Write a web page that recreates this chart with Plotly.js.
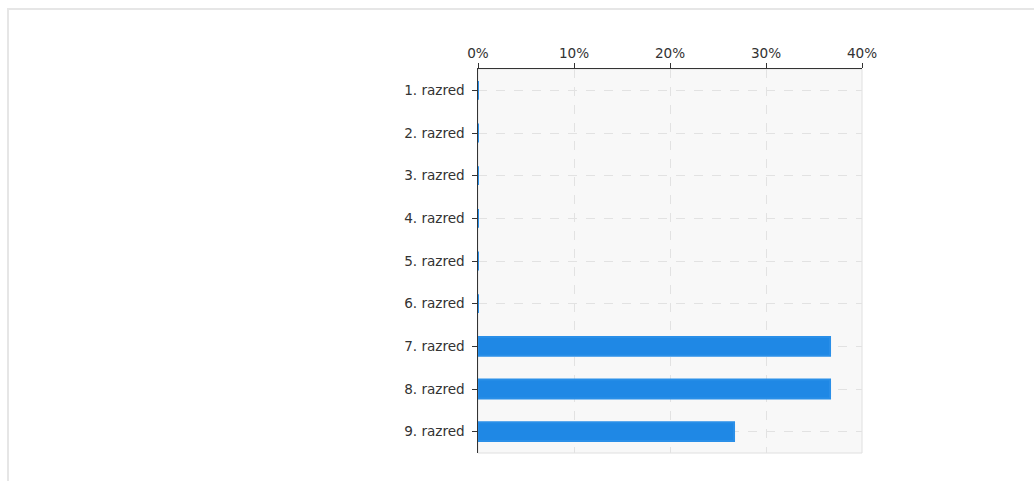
<!DOCTYPE html>
<html>
<head>
<meta charset="utf-8">
<script src="https://cdn.plot.ly/plotly-3.0.1.min.js"></script>
<style>
  html, body { margin: 0; padding: 0; background: #fff; }
  #frame { position: absolute; left: 7px; top: 8px; width: 1027px; height: 473px;
           border-top: 2px solid #e6e6e6; border-left: 2px solid #e6e6e6; box-sizing: border-box; }
  #chart { position: absolute; left: 0; top: 0; width: 1034px; height: 481px; }
</style>
</head>
<body>
<div id="frame"></div>
<div id="chart"></div>
<script>
const categories = ["1. razred", "2. razred", "3. razred", "4. razred", "5. razred",
                    "6. razred", "7. razred", "8. razred", "9. razred"];
const percentValues = [0, 0, 0, 0, 0, 0, 36.67, 36.67, 26.67];
const xTickValues = [0, 10, 20, 30, 40];
const xTickLabels = ["0%", "10%", "20%", "30%", "40%"];

const trace = {
  type: "bar",
  orientation: "h",
  y: categories,
  x: percentValues,
  marker: { color: "#1f88e5", line: { color: "#2a8fe8", width: 2 } },
  hoverinfo: "none"
};

const layout = {
  width: 1034,
  height: 481,
  margin: { l: 478, r: 172, t: 69, b: 28, pad: 0 },
  paper_bgcolor: "rgba(0,0,0,0)",
  plot_bgcolor: "#f8f8f8",
  showlegend: false,
  bargap: 0.56,
  font: { family: "DejaVu Sans, Verdana, sans-serif", size: 13.6, color: "#333" },
  xaxis: {
    side: "top",
    range: [0, 40],
    tickvals: xTickValues,
    ticktext: xTickLabels,
    ticks: "outside",
    ticklen: 5,
    tickcolor: "#333",
    ticklabelstandoff: -1,
    showline: true,
    linecolor: "#333",
    linewidth: 1.5,
    showgrid: true,
    gridcolor: "#e2e2e2",
    griddash: "dash",
    gridwidth: 1,
    zeroline: false,
    fixedrange: true
  },
  yaxis: {
    type: "category",
    autorange: "reversed",
    ticks: "outside",
    ticklen: 5,
    tickcolor: "#333",
    ticklabelstandoff: 4,
    showline: true,
    linecolor: "#333",
    linewidth: 1.5,
    showgrid: true,
    gridcolor: "#e2e2e2",
    griddash: "dash",
    gridwidth: 1,
    zeroline: false,
    fixedrange: true
  },
  shapes: [{
    type: "rect", xref: "paper", yref: "paper", x0: 0, x1: 1, y0: 0, y1: 1,
    line: { color: "#e0e0e0", width: 1 }, layer: "below"
  }]
};

Plotly.newPlot("chart", [trace], layout, { displayModeBar: false, staticPlot: true });
</script>
</body>
</html>
